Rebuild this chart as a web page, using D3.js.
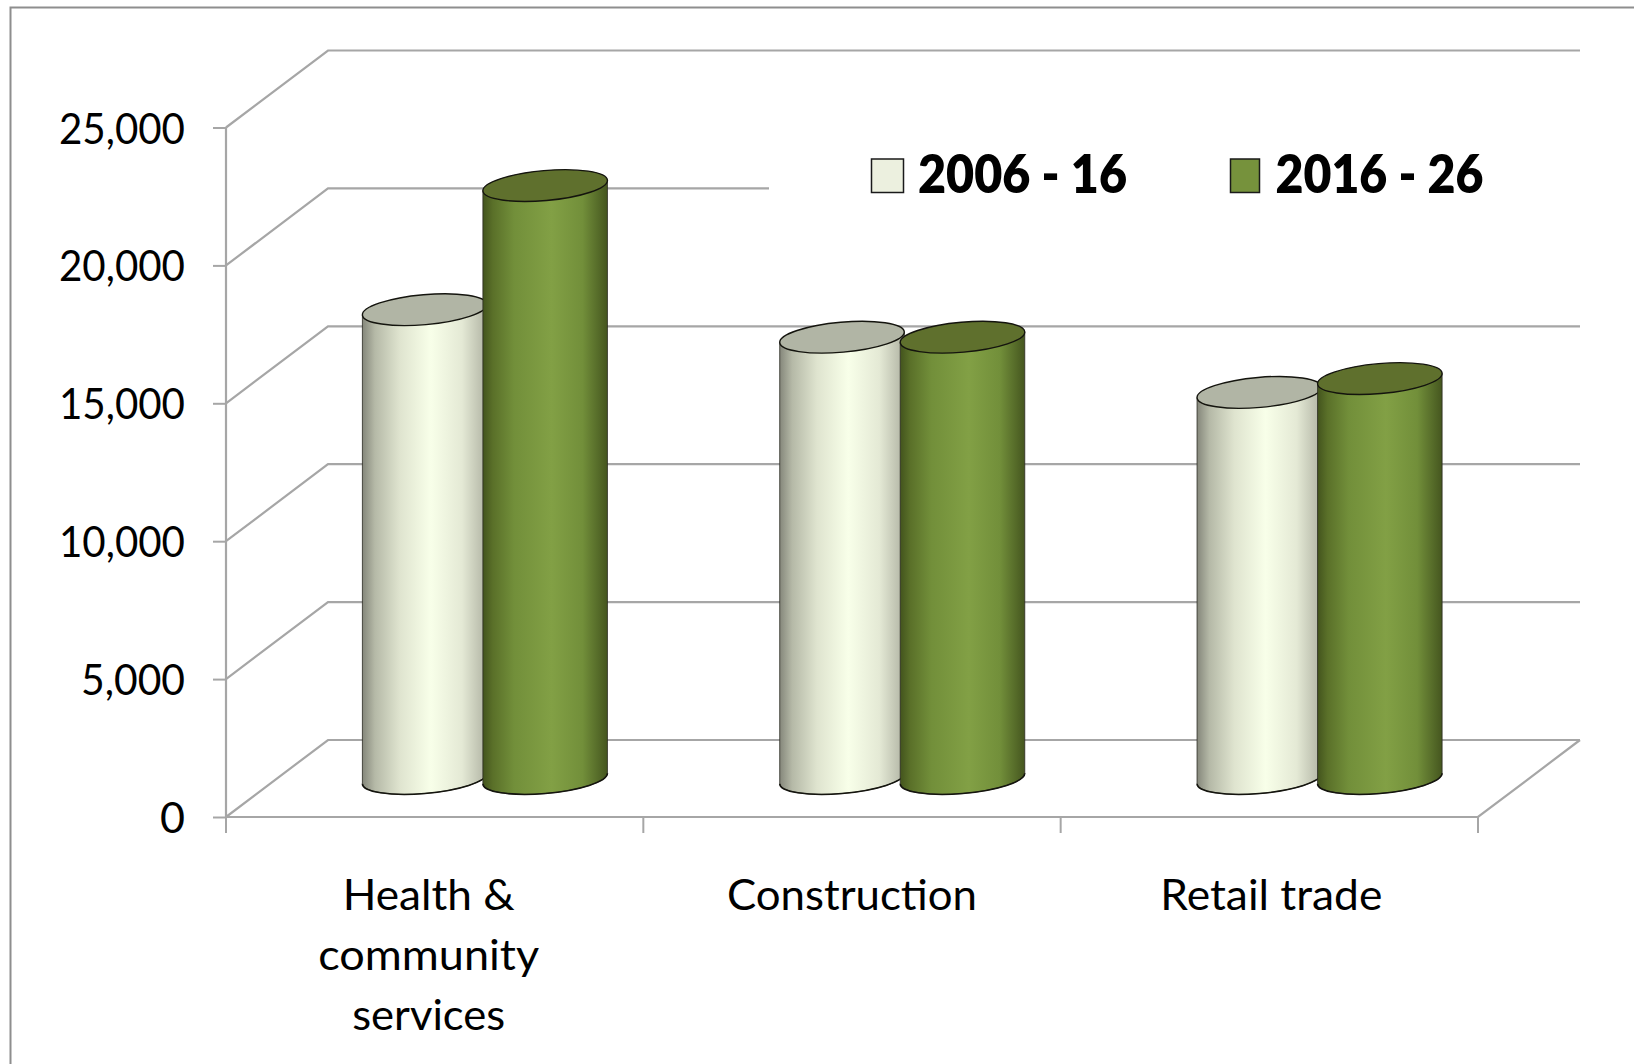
<!DOCTYPE html>
<html><head><meta charset="utf-8">
<script src="https://cdn.jsdelivr.net/npm/d3@7"></script>
<style>html,body{margin:0;padding:0;background:#fff}svg{display:block}text{font-family:Lato,"Open Sans",sans-serif;fill:#000}</style>
</head><body><svg id="c" width="1634" height="1064"></svg>
<script>
const categories = [["Health &","community","services"],["Construction"],["Retail trade"]];
const categoryKeys = ["Health & community services","Construction","Retail trade"];
const seriesNames = ["2006 - 16","2016 - 26"];
const values2006 = [17000,16000,14000];
const values2016 = [21500,16000,14500];
const yTicks = [0,5000,10000,15000,20000,25000];

const svg = d3.select("#c");
const W=1634,H=1064;
const x0=226,x1=1478,y0=817,y1=127.5,dx=102,dy=-77;
const grid="#a6a6a6";
const y=d3.scaleLinear().domain([0,25000]).range([y0,y1]);
const xBand=d3.scaleBand().domain(categoryKeys).range([x0,x1]);
const rx=62.5,ry=15,tilt=-5,rad=tilt*Math.PI/180;
const hw=Math.sqrt(rx*rx*Math.cos(rad)**2+ry*ry*Math.sin(rad)**2);
const ext=(rx*rx-ry*ry)*Math.sin(rad)*Math.cos(rad)/hw;

const defs=svg.append("defs");
function grad(id,stops){const g=defs.append("linearGradient").attr("id",id);
  stops.forEach(s=>g.append("stop").attr("offset",s[0]).attr("stop-color",s[1]));}
grad("gCream",[[0,"#85877b"],[.1,"#b5b9a7"],[.3,"#dfe4cf"],[.55,"#f8ffe9"],[.8,"#e4e9d5"],[1,"#b0b3a3"]]);
grad("gGreen",[[0,"#43541d"],[.08,"#5a7029"],[.25,"#728f3a"],[.55,"#82a045"],[.8,"#728f3a"],[1,"#45561f"]]);

// frame
svg.append("path").attr("d",`M10.5,${H}V7.5H${W}`).attr("fill","none").attr("stroke","#8e8e8e").attr("stroke-width",2);

// walls and grid
const gridG=svg.append("g").attr("fill","none").attr("stroke",grid).attr("stroke-width",2.2);
yTicks.forEach(t=>{
  gridG.append("path").attr("d",`M${x0},${y(t)}L${x0+dx},${y(t)+dy}H${x1+dx}`);
});
gridG.append("path").attr("d",`M${x0},${y0}H${x1}L${x1+dx},${y0+dy}`);

// white legend backing interrupts the 20,000 wall line
svg.append("rect").attr("x",769).attr("y",130).attr("width",830).attr("height",100).attr("fill","#fff");

// y axis
const yAxis=d3.axisLeft(y).tickValues(yTicks).tickSize(13).tickFormat(d3.format(",")).tickPadding(0);
const yg=svg.append("g").attr("transform",`translate(${x0},0)`).call(yAxis);
yg.select(".domain").attr("d",`M0,${y1}V${y0}`).attr("stroke",grid).attr("stroke-width",2.2);
yg.selectAll(".tick line").attr("stroke",grid).attr("stroke-width",2);
yg.selectAll(".tick text").attr("x",-41).attr("dy",null).attr("y",15.5)
  .style("font-size","42px").attr("text-anchor","end")
  .attr("textLength",d=>d3.format(",")(d).length>5?126:d3.format(",")(d).length>1?104:25)
  .attr("lengthAdjust","spacingAndGlyphs");

// x axis ticks on band edges
const xEdges=[...categoryKeys.map(c=>xBand(c)),x1];
svg.append("g").selectAll("line").data(xEdges).join("line")
  .attr("x1",d=>d).attr("x2",d=>d).attr("y1",y0).attr("y2",y0+16)
  .attr("stroke",grid).attr("stroke-width",2);

// category labels
const lineW={"Health &":172,"community":221,"services":153,"Construction":250,"Retail trade":222};
const labelShift=[-6,0,2];
categories.forEach((lines,i)=>{
  const cx=xBand(categoryKeys[i])+xBand.bandwidth()/2+labelShift[i];
  lines.forEach((l,j)=>{
    svg.append("text").attr("class","cat").attr("x",cx).attr("y",910+j*60)
      .attr("text-anchor","middle").style("font-size","42px")
      .attr("textLength",lineW[l]).attr("lengthAdjust","spacingAndGlyphs").text(l);
  });
});

// cylinders
const mid=dy/2, depthX=dx/2;
function cyl(catIdx,val,off,fill,top){
  const c=xBand(categoryKeys[catIdx])+xBand.bandwidth()/2+depthX+off;
  const yb=y(0)+mid, yt=y(val)+mid;
  const lx=c-hw,rp=c+hw,ly=-ext,ry2=ext;
  const g=svg.append("g");
  g.append("path").attr("d",`M${lx},${yt+ly}L${lx},${yb+ly}A${rx},${ry} ${tilt} 0 0 ${rp},${yb+ry2}L${rp},${yt+ry2}Z`)
    .attr("fill",`url(#${fill})`).attr("stroke","#2a2a22").attr("stroke-width",1).attr("stroke-opacity",.8);
  g.append("path").attr("d",`M${lx},${yb+ly}A${rx},${ry} ${tilt} 0 0 ${rp},${yb+ry2}`)
    .attr("fill","none").attr("stroke","#14140e").attr("stroke-width",1.6);
  g.append("ellipse").attr("rx",rx).attr("ry",ry)
    .attr("transform",`translate(${c},${yt}) rotate(${tilt})`)
    .attr("fill",top).attr("stroke","#14140e").attr("stroke-width",1.4);
}
values2006.forEach((v,i)=>{
  cyl(i,v,-61,"gCream","#b1b5a5");
  cyl(i,values2016[i],59.5,"gGreen","#5f702d");
});

// legend
const legendX=[871.5,1230.5], legendTxt=[918,1275.5], legendTxtW=[209,208];
const swatch=["#ecf0df","#76923c"];
seriesNames.forEach((s,i)=>{
  svg.append("rect").attr("x",legendX[i]).attr("y",159).attr("width",i?29:32).attr("height",33.5)
    .attr("fill",swatch[i]).attr("stroke","#1a1a1a").attr("stroke-width",1.5);
  svg.append("text").attr("x",legendTxt[i]).attr("y",193).style("font-size","53px").style("font-weight",800)
    .attr("textLength",legendTxtW[i]).attr("lengthAdjust","spacingAndGlyphs").text(s);
});
</script></body></html>
